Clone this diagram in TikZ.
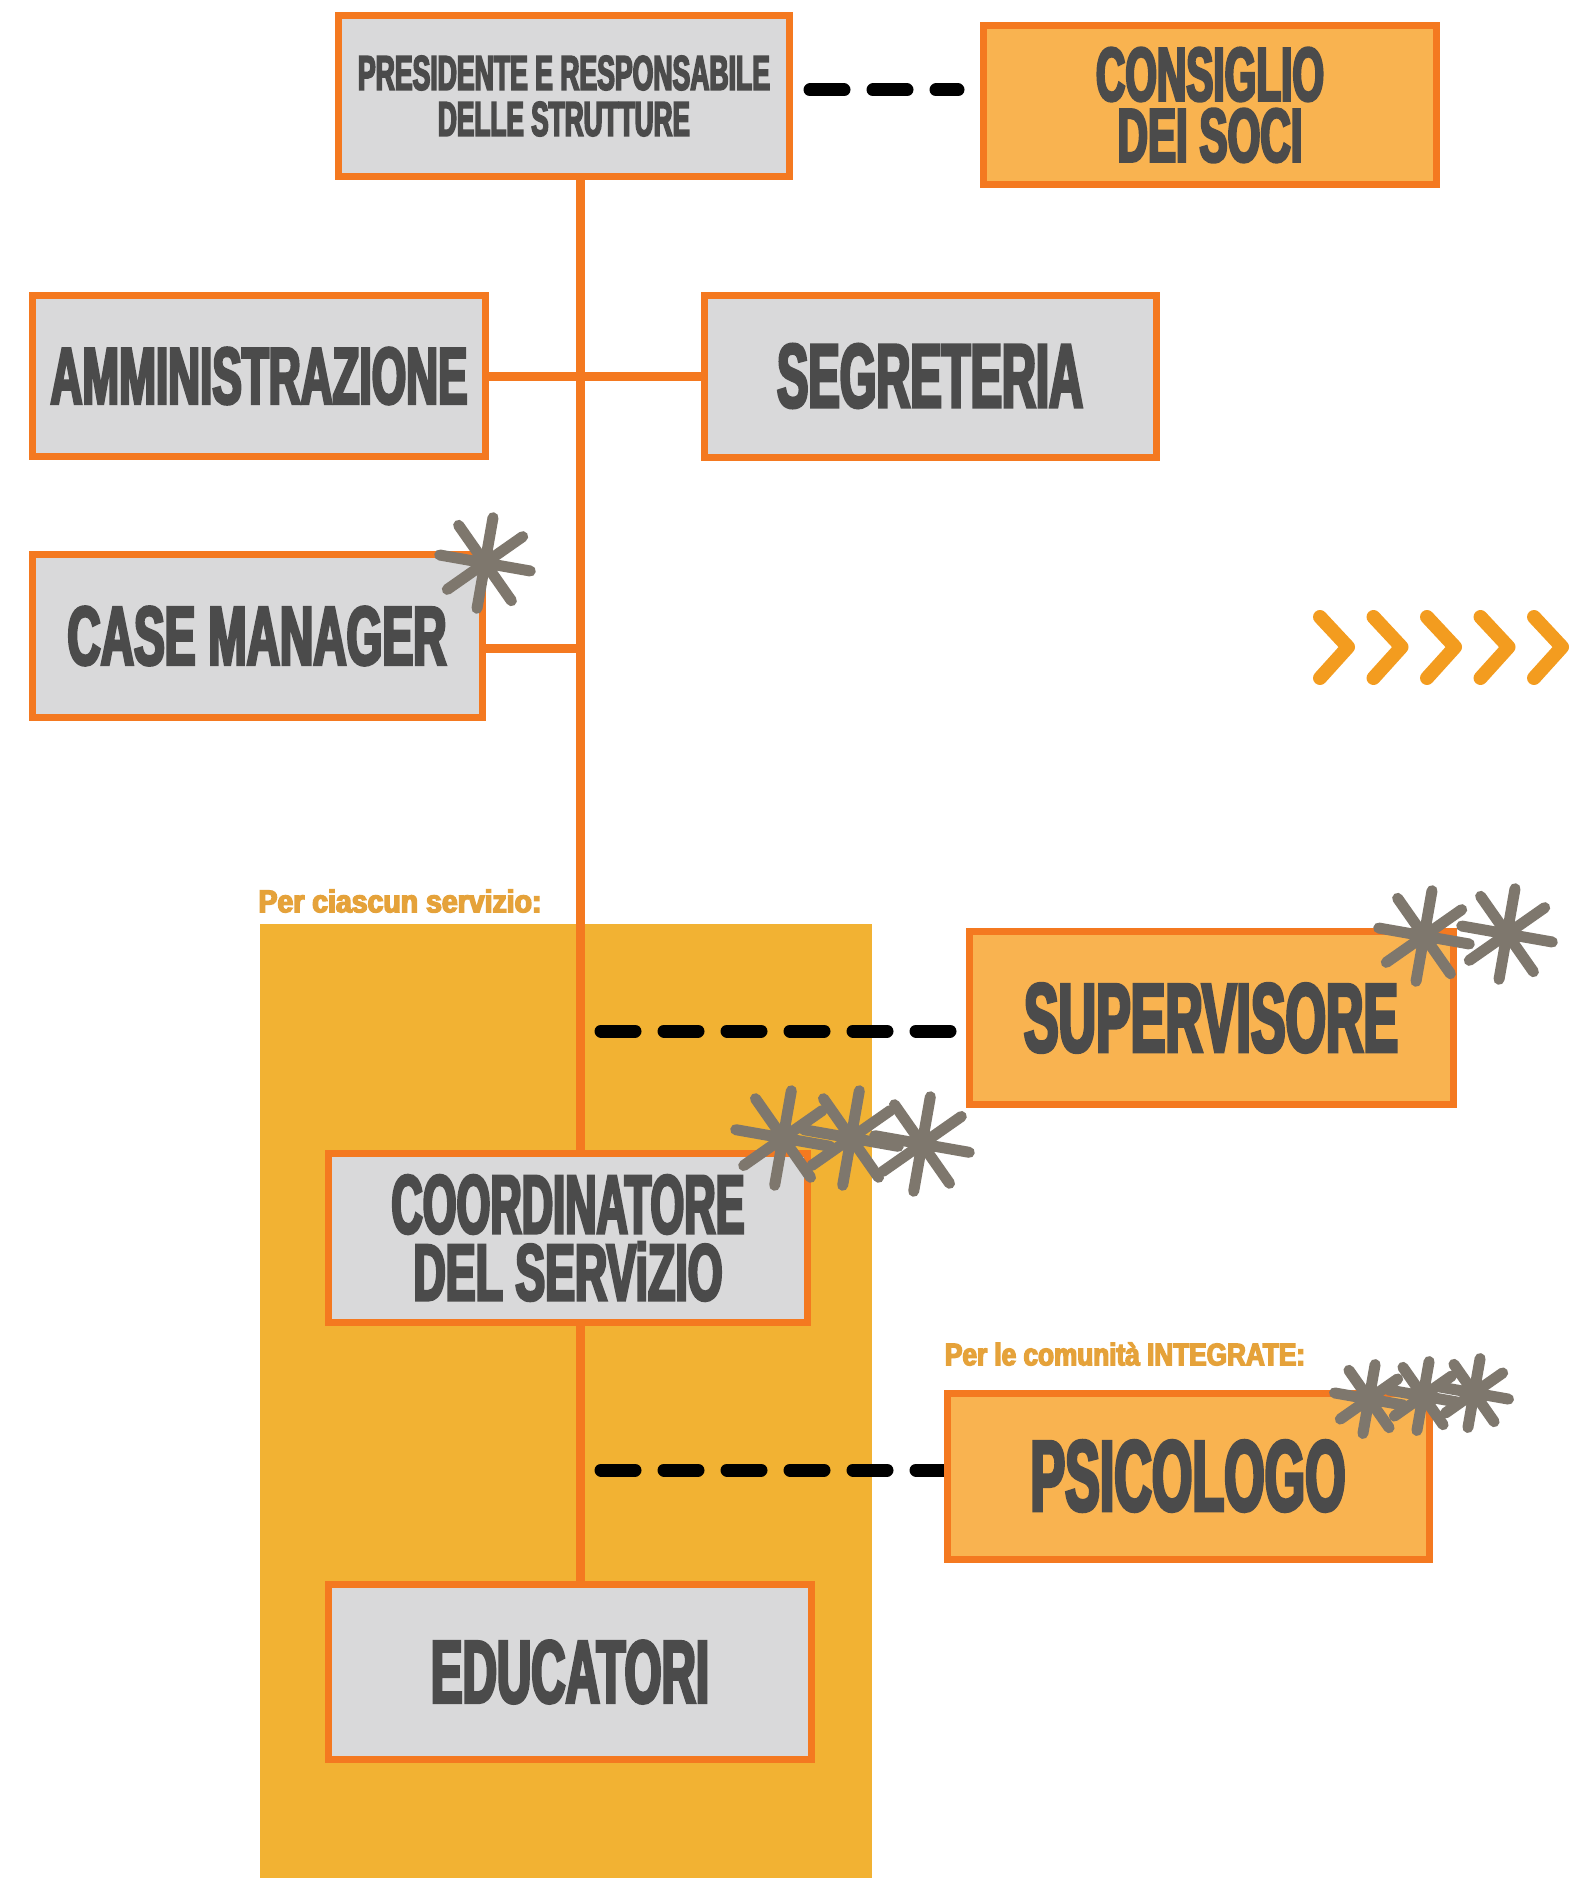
\documentclass[tikz,border=0pt]{standalone}
\usepackage{fontspec}
\usepackage{graphicx}
\setmainfont{Liberation Sans}
\newfontfamily\lblfont{Liberation Sans}[FakeStretch=0.6,FakeBold=3.5]
\usetikzlibrary{calc}
\definecolor{borderorange}{HTML}{F47920}
\definecolor{boxgray}{HTML}{D9D9DA}
\definecolor{boxorange}{HTML}{F9B350}
\definecolor{bandyellow}{HTML}{F2B233}
\definecolor{txtgray}{HTML}{4B4B4B}
\definecolor{stargray}{HTML}{7E776D}
\definecolor{labelgold}{HTML}{E5A23A}
\definecolor{chevorange}{HTML}{F39C1F}
\newcommand\fitl[3]{\resizebox{#1pt}{#2pt}{\lblfont\bfseries #3}}
\pgfdeclarelayer{back}
\pgfdeclarelayer{mid}
\pgfsetlayers{back,mid,main}
\begin{document}
\begin{tikzpicture}[x=1pt,y=-1pt,
  box/.style={draw=borderorange, line width=7pt, text=txtgray, inner sep=0pt, align=center},
  graybox/.style={box, fill=boxgray},
  orbox/.style={box, fill=boxorange},
  trunkline/.style={draw=borderorange, line width=9pt},
  dashline/.style={draw=black, line width=13pt, line cap=round, dash pattern=on 34pt off 29pt},
  starline/.style={draw=stargray, line width=11pt, line cap=round},
  chevline/.style={draw=chevorange, line width=14pt, line cap=round, line join=round},
  lbl/.style={text=labelgold, inner sep=0pt}
]
\useasboundingbox (0,0) rectangle (1591,1878);
\begin{pgfonlayer}{back}
  \fill[white] (0,0) rectangle (1591,1878);
  \fill[bandyellow] (260,924) rectangle (872,1878);
\end{pgfonlayer}

% boxes
\node[graybox, minimum width=451pt, minimum height=161pt, font=\fontsize{10}{46}\selectfont] (pres) at (564,96)
  {\fitl{412}{34}{PRESIDENTE E RESPONSABILE}\\\fitl{252}{34}{DELLE STRUTTURE}};
\node[orbox, minimum width=453pt, minimum height=159pt, font=\fontsize{10}{61}\selectfont] (cons) at (1210,105)
  {\fitl{228}{53}{CONSIGLIO}\\\fitl{185}{53}{DEI SOCI}};
\node[graybox, minimum width=453pt, minimum height=161pt] (amm) at (259,376)
  {\fitl{417}{56}{AMMINISTRAZIONE}};
\node[graybox, minimum width=452pt, minimum height=162pt] (seg) at (930,376)
  {\fitl{306}{63}{SEGRETERIA}};
\node[graybox, minimum width=450pt, minimum height=163pt] (cm) at (257,636)
  {\fitl{379}{58}{CASE MANAGER}};
\node[orbox, minimum width=484pt, minimum height=173pt] (sup) at (1211,1018)
  {\fitl{374}{68}{SUPERVISORE}};
\node[graybox, minimum width=479pt, minimum height=169pt, font=\fontsize{10}{67}\selectfont] (coord) at (568,1238)
  {\fitl{353}{58}{COORDINATORE}\\\fitl{309}{58}{DEL SERViZIO}};
\node[orbox, minimum width=482pt, minimum height=166pt] (psi) at (1188,1476)
  {\fitl{315}{70}{PSICOLOGO}};
\node[graybox, minimum width=483pt, minimum height=175pt] (edu) at (570,1672)
  {\fitl{278}{62}{EDUCATORI}};

% labels
\node[lbl] (lab1) at (400,901) {\fitl{283}{23}{Per ciascun servizio:}};
\node[lbl] (lab2) at (1125,1354) {\fitl{360}{23}{Per le comunità INTEGRATE:}};

% connectors
\begin{pgfonlayer}{mid}
  \coordinate (tk) at ($(pres.south)+(16,0)$);
  \draw[trunkline] (tk) -- (edu.north -| tk);
  \draw[trunkline] (amm.east) -- (seg.west);
  \draw[trunkline] ($(cm.east)+(0,12)$) -- ($(cm.east -| tk)+(0,12)$);
  \draw[dashline, shorten <=17pt, shorten >=22pt] ($(pres.east)+(0,-6)$) -- ($(cons.west)+(0,-15)$);
  \draw[dashline, shorten <=21pt] ($(sup.west -| tk)+(0,13)$) -- ($(sup.west)+(0,13)$);
  \draw[dashline, shorten <=21pt] ($(psi.west -| tk)+(0,-6)$) -- ($(psi.west)+(0,-6)$);
\end{pgfonlayer}

% asterisks
\newcommand\astk[3]{%
  \foreach \a/\b in {10/190,55/235,100/280,145/325}{%
    \draw[starline] (#1,#2) +(\a:#3) -- +(\b:#3);}}
\astk{485}{563}{46}
\astk{1424}{936}{46}
\astk{1507}{934}{46}
\astk{783}{1138}{48}
\astk{851}{1138}{48}
\astk{922}{1144}{48}
\astk{1369}{1399}{35}
\astk{1423}{1396}{35}
\astk{1474}{1393}{35}

% chevrons
\foreach \i in {0,...,4}{%
  \draw[chevline] (1320+53.5*\i,617) -- ++(28,30) -- ++(-28,31);}
\end{tikzpicture}
\end{document}
